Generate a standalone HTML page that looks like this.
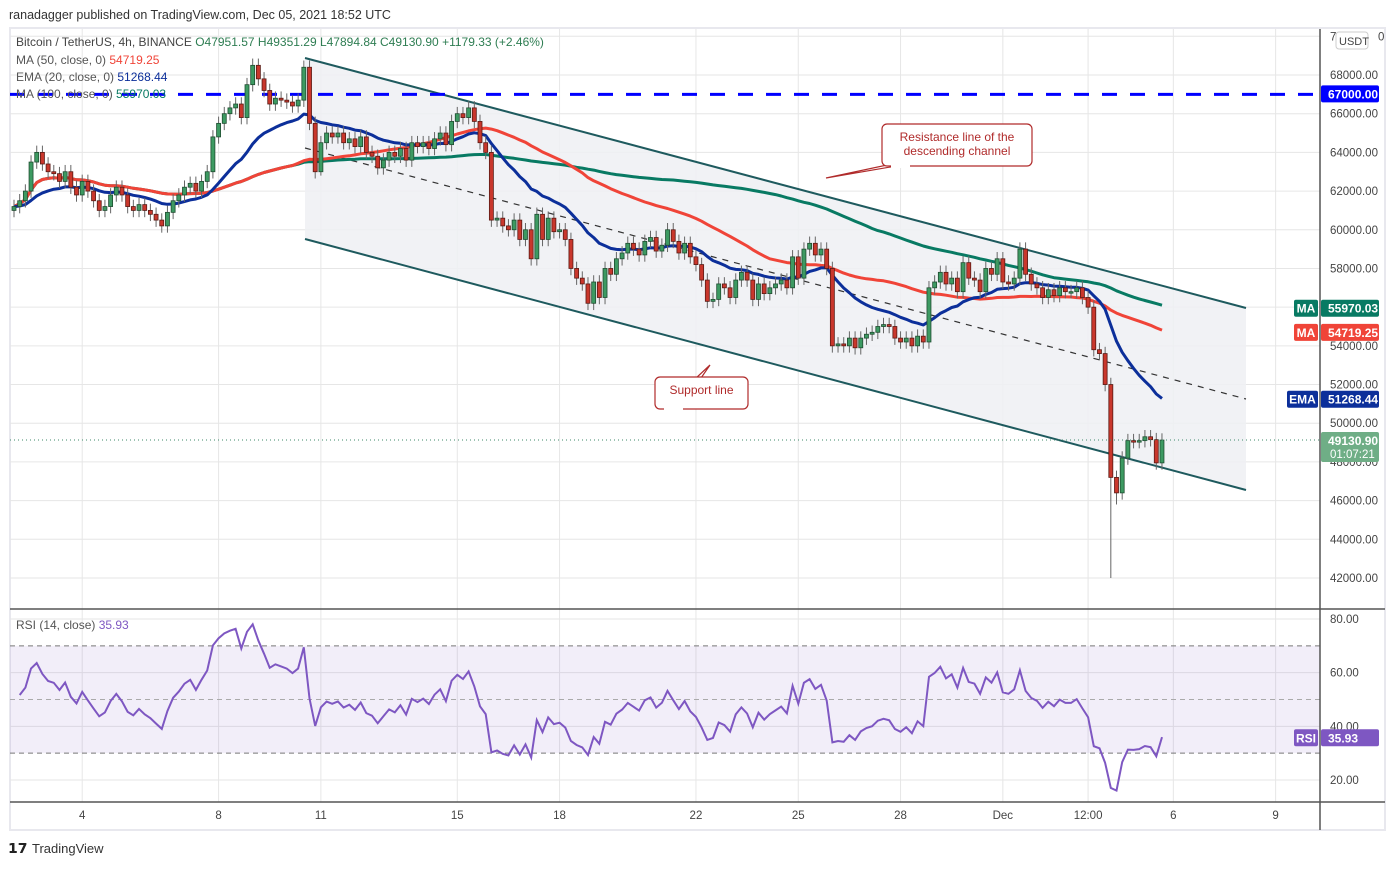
<!DOCTYPE html>
<html><head><meta charset="utf-8"><style>
body{margin:0;background:#fff;font-family:"Liberation Sans",sans-serif;}
svg text{font-family:"Liberation Sans",sans-serif;}
</style></head><body>
<svg id="c" width="1394" height="865" viewBox="0 0 1394 865" xmlns="http://www.w3.org/2000/svg"></svg>
<script>
const closes=[
61200,61500,62000,63500,64000,63400,
63000,62900,62500,63000,62200,61800,
62500,62000,61500,61000,61200,61800,
62200,61800,61200,61000,61300,61000,
60800,60500,60200,60900,61500,61800,
62200,62400,62000,62500,63000,64800,
65500,66000,66300,66500,65800,67500,
68500,67800,67200,66500,66800,66700,
66600,66400,66700,68400,65500,63000,
64500,65000,64800,65000,64500,64700,
64300,64800,64000,63800,63200,63600,
64000,63800,64200,63600,64500,64300,
64500,64200,64700,65000,64400,65600,
66000,65800,66300,65600,64500,64000,
60500,60600,60200,60000,60500,59500,
60000,58500,60800,59500,60600,59900,
60000,59500,58000,57500,57200,56200,
57300,56500,58000,57700,58500,58800,
59300,59000,58700,59400,59600,58900,
59200,60000,59400,58800,59300,58600,
58200,57400,56300,56400,57200,57000,
56500,57400,57800,57400,56400,57200,
56700,57000,57200,57400,57000,58600,
57500,59000,59300,58700,59000,58000,
54000,54100,54000,54400,53900,54400,
54600,54700,55000,55100,55000,54400,
54200,54400,54000,54500,54200,57000,
57300,57800,57200,57500,56800,58300,
57500,57400,56800,58000,57700,58500,
57300,57200,57500,59000,57700,57200,
57000,56500,56900,56600,57000,56800,
56800,57000,56500,56000,53800,53600,
52000,47200,46400,48200,49100,49050,
49100,49300,49150,47950,49130];
const firstOpen=61000;
const wickLowOverride={193:42000,194:45800,54:62800};
const priceTicks=[42000,44000,46000,48000,50000,52000,54000,56000,58000,60000,62000,64000,66000,68000];
const dateLabels=["4","8","11","15","18","22","25","28","Dec","12:00","6","9"];
const dateCandle=[12,36,54,78,96,120,138,156,174,189,204,222];
const rsiTicks=[20,40,60,80];

const S=document.getElementById('c');const NS='http://www.w3.org/2000/svg';
function el(t,a,p){const e=document.createElementNS(NS,t);for(const k in a)e.setAttribute(k,a[k]);(p||S).appendChild(e);return e;}
function tx(s,a,p){const e=el('text',a,p);e.textContent=s;return e;}
const X=i=>14+i*5.683;
const Y=p=>75+(68000-p)*0.019346;
const RY=v=>780-(v-20)*2.683;

let g=el('g',{});
el('rect',{x:10,y:28,width:1375,height:802,fill:'#fff',stroke:'#e8e8ee','stroke-width':2},g);
let grid=el('g',{stroke:'#e6e6e6','stroke-width':1});
dateCandle.forEach(c=>{el('line',{x1:X(c),x2:X(c),y1:29,y2:802},grid);});
priceTicks.concat([70000]).forEach(p=>{el('line',{x1:10,x2:1320,y1:Y(p),y2:Y(p)},grid);});
rsiTicks.forEach(v=>{el('line',{x1:10,x2:1320,y1:RY(v),y2:RY(v)},grid);});
const up=[[305,58],[1246,308]],lo=[[305,239],[1246,490]],mid=[[305,148],[1246,399]];
let ch=el('polygon',{points:`${up[0]} ${up[1]} ${lo[1]} ${lo[0]}`,fill:'#eef0f3','fill-opacity':0.85});

let l1=el('line',{x1:up[0][0],y1:up[0][1],x2:up[1][0],y2:up[1][1],stroke:'#1e5a5e','stroke-width':2});

let l2=el('line',{x1:lo[0][0],y1:lo[0][1],x2:lo[1][0],y2:lo[1][1],stroke:'#1e5a5e','stroke-width':2});

let l3=el('line',{x1:mid[0][0],y1:mid[0][1],x2:mid[1][0],y2:mid[1][1],stroke:'#333','stroke-width':1.2,'stroke-dasharray':'6 6'});

let hl=el('line',{x1:10,x2:1320,y1:Y(67000),y2:Y(67000),stroke:'#0000ff','stroke-width':3,'stroke-dasharray':'15 13'});

function sma(n){return closes.map((c,i)=>{const s=Math.max(0,i-n+1);let t=0;for(let j=s;j<=i;j++)t+=closes[j];return t/(i-s+1);});}
function ema(n){const k=2/(n+1);let e=closes[0];return closes.map(c=>e=c*k+e*(1-k));}
function poly(arr,col,name){let d=arr.map((v,i)=>(i?'L':'M')+X(i).toFixed(1)+' '+Y(v).toFixed(1)).join('');
 const p=el('path',{d:d,fill:'none',stroke:col,'stroke-width':3,'stroke-linejoin':'round'});}
poly(sma(100),'#087a63','ma100-line');poly(sma(50),'#f04438','ma50-line');poly(ema(20),'#0c2f9a','ema20-line');
let cg=el('g',{});
closes.forEach((c,i)=>{const o=i?closes[i-1]:firstOpen;const hi=Math.max(o,c)+350;const lo=wickLowOverride[i]||Math.min(o,c)-350;
 const up=c>=o;const x=X(i);
 el('line',{x1:x,x2:x,y1:Y(hi),y2:Y(lo),stroke:'#666','stroke-width':1},cg);
 const r=el('rect',{x:x-2,y:Y(Math.max(o,c)),width:4,height:Math.max(1.5,Math.abs(Y(o)-Y(c))),fill:up?'#3d9a62':'#c9372c',stroke:up?'#1f4d30':'#5a1a14','stroke-width':0.8},cg);
 });
let lp=el('line',{x1:10,x2:1320,y1:Y(closes[closes.length-1]),y2:Y(closes[closes.length-1]),stroke:'#3d8a6a','stroke-width':1,'stroke-dasharray':'1 3'});

let rb=el('rect',{x:10,y:RY(70),width:1310,height:RY(30)-RY(70),fill:'#7e57c2','fill-opacity':0.1});
[70,50,30].forEach(v=>{let l=el('line',{x1:10,x2:1320,y1:RY(v),y2:RY(v),stroke:v==50?'#aaa':'#777','stroke-width':1,'stroke-dasharray':'5 4'});});
function rsi(n){let ag=330,al=330;const out=[];for(let i=1;i<closes.length;i++){const d=closes[i]-closes[i-1];const gg=Math.max(d,0),ll=Math.max(-d,0);
 ag=(ag*(n-1)+gg)/n;al=(al*(n-1)+ll)/n;
 out.push(al==0?100:100-100/(1+ag/al));}return out;}
const rv=rsi(14);
let rp=el('path',{d:rv.map((v,i)=>(i?'L':'M')+X(i+1).toFixed(1)+' '+RY(v).toFixed(1)).join(''),fill:'none',stroke:'#7e57c2','stroke-width':2});

el('line',{x1:10,x2:1385,y1:609,y2:609,stroke:'#555','stroke-width':1.5});
el('line',{x1:10,x2:1385,y1:802,y2:802,stroke:'#555','stroke-width':1.5});
el('line',{x1:1320,x2:1320,y1:29,y2:830,stroke:'#555','stroke-width':1.5});
let pa=el('g',{'font-size':11.5,fill:'#444'});
priceTicks.forEach(p=>tx(p.toFixed(2),{x:1330,y:Y(p)+4},pa));
tx('7',{x:1330,y:Y(70000)+4},pa);tx('0',{x:1378,y:Y(70000)+4},pa);
let us=el('rect',{x:1336,y:32,width:32,height:17,rx:3,fill:'#fff',stroke:'#ccc'});
tx('USDT',{x:1339,y:45,'font-size':11,fill:'#444'});
let ra=el('g',{'font-size':11.5,fill:'#444'});
rsiTicks.forEach(v=>tx(v.toFixed(2),{x:1330,y:RY(v)+4},ra));
let da=el('g',{'font-size':11.5,fill:'#444','text-anchor':'middle'});
dateLabels.forEach((s,i)=>tx(s,{x:X(dateCandle[i]),y:819},da));
function tag(y,h,col,txt,lab,labw,name){const t=el('g',{});
 el('rect',{x:1321,y:y,width:58,height:h,fill:col,rx:2},t);tx(txt,{x:1328,y:y+13,'font-size':12,'font-weight':'bold',fill:'#fff'},t);
 if(lab){el('rect',{x:1320-labw-2,y:y,width:labw,height:h,fill:col,rx:2},t);tx(lab,{x:1320-labw/2-2,y:y+13,'font-size':12,'font-weight':'bold',fill:'#fff','text-anchor':'middle'},t);}}
tag(Y(67000)-9,17,'#0000ff','67000.00','',0,'tag-67000');
tag(Y(55970)-8,17,'#087a63','55970.03','MA',24,'tag-ma100');
tag(Y(54719)-8,17,'#f04438','54719.25','MA',24,'tag-ma50');
tag(Y(51268)-8,17,'#0c2f9a','51268.44','EMA',31,'tag-ema20');
tag(RY(35.93)-8,17,'#7e57c2','35.93','RSI',24,'tag-rsi');
let pt=el('g',{});
el('rect',{x:1321,y:Y(49130)-8,width:58,height:30,fill:'#6fae86',rx:2},pt);
tx('49130.90',{x:1328,y:Y(49130)+5,'font-size':12,'font-weight':'bold',fill:'#fff'},pt);
tx('01:07:21',{x:1330,y:Y(49130)+18,'font-size':11.5,fill:'#fff'},pt);
function callout(x,y,w,h,lines,px,py,name){const a=el('g',{});
 el('path',{d:`M${x+10} ${y+h-2} L${px} ${py} L${x+26} ${y+h-2}`,fill:'#fff',stroke:'#b02b2b','stroke-width':1.2},a);
 el('rect',{x:x,y:y,width:w,height:h,rx:5,fill:'#fff',stroke:'#b02b2b','stroke-width':1.2},a);
 el('rect',{x:x+9,y:y+h-4,width:19,height:6,fill:'#fff'},a);
 lines.forEach((s,i)=>tx(s,{x:x+w/2,y:y+17+i*14,'font-size':12,fill:'#b02b2b','text-anchor':'middle'},a));}
callout(882,124,150,42,['Resistance line of the','descending channel'],826,178,'resistance-annotation');
callout(655,377,93,32,['Support line'],710,365,'support-annotation');
let lg=el('g',{'font-size':12});
tx('ranadagger published on TradingView.com, Dec 05, 2021 18:52 UTC',{x:9,y:19,'font-size':12.5,fill:'#333'},lg);
const t1=tx('',{x:16,y:46,fill:'#444'},lg);t1.innerHTML='Bitcoin / TetherUS, 4h, BINANCE <tspan fill="#2e7d52">O47951.57 H49351.29 L47894.84 C49130.90 +1179.33 (+2.46%)</tspan>';
const t2=tx('',{x:16,y:64,fill:'#555'},lg);t2.innerHTML='MA (50, close, 0) <tspan fill="#f04438">54719.25</tspan>';
const t3=tx('',{x:16,y:81,fill:'#555'},lg);t3.innerHTML='EMA (20, close, 0) <tspan fill="#0c2f9a">51268.44</tspan>';
const t4=tx('',{x:16,y:98,fill:'#555'},lg);t4.innerHTML='MA (100, close, 0) <tspan fill="#087a63">55970.03</tspan>';
const t5=tx('',{x:16,y:629,fill:'#555'},lg);t5.innerHTML='RSI (14, close) <tspan fill="#7e57c2">35.93</tspan>';
let ft=el('g',{});
tx('𝟭𝟳',{x:8,y:853,'font-size':14,'font-weight':'bold',fill:'#222'},ft);
tx('TradingView',{x:32,y:853,'font-size':13,fill:'#333'},ft);
</script>
</body></html>
